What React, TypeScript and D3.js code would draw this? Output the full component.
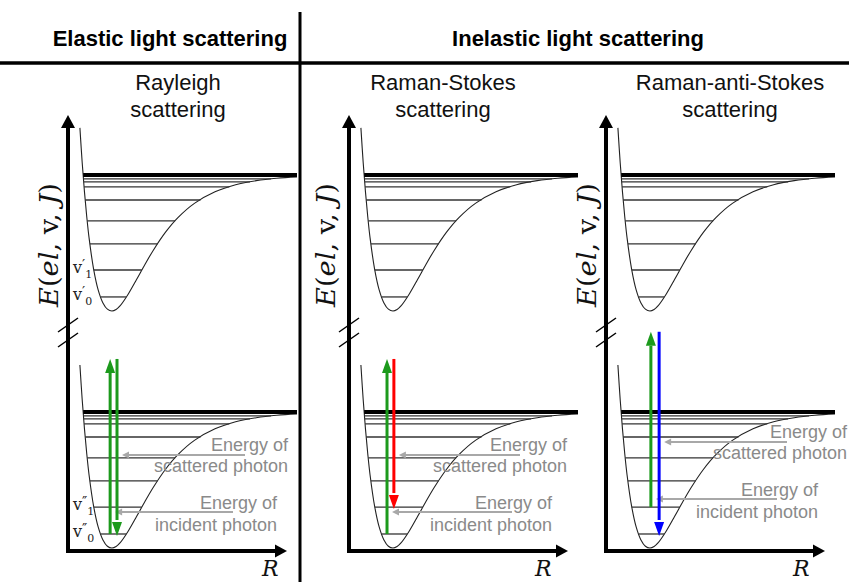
import React from "react";
import * as d3 from "d3";

const W = 849;
const H = 582;

// Headings
const sectionTitles = ["Elastic light scattering", "Inelastic light scattering"];
const processNames = [
  ["Rayleigh", "scattering"],
  ["Raman-Stokes", "scattering"],
  ["Raman-anti-Stokes", "scattering"],
];

// Potential energy curve, internuclear distance R (Å) vs energy E (arb. units, well bottom = 0)
const potentialR = [0.26, 0.31, 0.36, 0.41, 0.46, 0.56, 0.66, 0.76, 0.86, 0.96, 1.05, 1.14, 1.32, 1.5, 1.68, 1.86, 2.13, 2.4, 2.76, 3.21, 3.66, 4.11, 4.56, 5.0];
const potentialE = [13.46, 10.9, 8.74, 6.91, 5.37, 3.06, 1.53, 0.61, 0.13, 0, 0.11, 0.39, 1.27, 2.33, 3.42, 4.45, 5.79, 6.86, 7.91, 8.76, 9.28, 9.58, 9.76, 9.86];
const dissociationE = 10;
const vibLevelsE = [1.03, 3.01, 4.93, 6.62, 8.16, 9.12, 9.49, 9.71];
const excitedShiftE = 17.43;

// Photon transitions for each process
const incidentFromE = [1.03, 1.03, 3.01];
const virtualLevelE = [13.9, 13.9, 15.9];
const scatteredToE = [1.03, 3.01, 1.03];
const incidentColor = "#1c9a1c";
const scatteredColors = ["#1c9a1c", "#ff0000", "#0000ff"];

const scatteredNote = ["Energy of", "scattered photon"];
const incidentNote = ["Energy of", "incident photon"];

// Drawing geometry for each panel
const PANELS = [
  { axisX: 68, upR: 0.92, downR: 1.07, scatY: 455, incY: 512, scatTail: 245, incTail: 233, scatRight: 288, incRight: 277, eLabelX: 51, rX: 262, labels: true },
  { axisX: 349, upR: 0.83, downR: 0.98, scatY: 455, incY: 512, scatTail: 520, incTail: 512, scatRight: 567, incRight: 552, eLabelX: 328, rX: 535, labels: false },
  { axisX: 606, upR: 0.98, downR: 1.16, scatY: 442, incY: 499, scatTail: 787, incTail: 777, scatRight: 847, incRight: 818, eLabelX: 589, rX: 793, labels: false },
];

const SANS = "'Liberation Sans', Arial, sans-serif";
const SERIF = "'DejaVu Serif', 'Liberation Serif', serif";

const yScale = d3.scaleLinear().domain([0, 10]).range([548, 412]);
const AXIS_Y = 551;
const AXIS_TOP = 115;

const minIdx = potentialE.indexOf(d3.min(potentialE) as number);

// R where the curve crosses energy e on one side of the well
function crossing(e: number, side: "left" | "right"): number | null {
  const idx = side === "left" ? d3.range(0, minIdx) : d3.range(minIdx, potentialR.length - 1);
  for (const i of idx) {
    const e0 = potentialE[i], e1 = potentialE[i + 1];
    if ((e - e0) * (e - e1) <= 0 && e0 !== e1) {
      const t = (e - e0) / (e1 - e0);
      return potentialR[i] + t * (potentialR[i + 1] - potentialR[i]);
    }
  }
  return null;
}

function head(tx: number, ty: number, dir: "up" | "down" | "left" | "right", len: number, half: number) {
  if (dir === "up") return `M${tx},${ty}L${tx - half},${ty + len}L${tx + half},${ty + len}Z`;
  if (dir === "down") return `M${tx},${ty}L${tx - half},${ty - len}L${tx + half},${ty - len}Z`;
  if (dir === "left") return `M${tx},${ty}L${tx + len},${ty - half}L${tx + len},${ty + half}Z`;
  return `M${tx},${ty}L${tx - len},${ty - half}L${tx - len},${ty + half}Z`;
}

function Well({ x, shift, labelPrime, showLabels }: { x: d3.ScaleLinear<number, number>; shift: number; labelPrime: string; showLabels: boolean }) {
  const line = d3
    .line<number>()
    .x((_, i) => x(potentialR[i]))
    .y((e) => yScale(e + shift))
    .curve(d3.curveCatmullRom.alpha(0.5));
  const dLeft = crossing(dissociationE, "left") as number;
  return (
    <g>
      <path d={line(potentialE) as string} fill="none" stroke="#222" strokeWidth={1.1} />
      {vibLevelsE.map((e, i) => {
        const l = crossing(e, "left");
        const r = crossing(e, "right");
        if (l == null || r == null) return null;
        return <line key={i} x1={x(l)} x2={x(r)} y1={yScale(e + shift)} y2={yScale(e + shift)} stroke="#333" strokeWidth={1.3} />;
      })}
      <line x1={x(dLeft)} x2={x(5)} y1={yScale(dissociationE + shift)} y2={yScale(dissociationE + shift)} stroke="#000" strokeWidth={4} />
      {showLabels &&
        [0, 1].map((v) => (
          <text key={v} x={x(0) + 5} y={yScale(vibLevelsE[v] + shift) + 3} fontFamily={SERIF} fontSize={16} fill="#222">
            v<tspan fontSize={14} dy={-3}>{labelPrime}</tspan>
            <tspan fontSize={11} dy={8}>{v}</tspan>
          </text>
        ))}
    </g>
  );
}

function Panel({ p, k }: { p: (typeof PANELS)[number]; k: number }) {
  const x = d3.scaleLinear().domain([0, 5]).range([p.axisX, p.axisX + 229]);
  const upX = x(p.upR);
  const downX = x(p.downR);
  const topY = yScale(virtualLevelE[k]);
  const upFromY = yScale(incidentFromE[k]);
  const downToY = yScale(scatteredToE[k]);
  const HL = 14;
  const HW = 5;
  const gray = "#a8a8a8";
  const textGray = "#8a8a8a";
  const scatTip = downX + 5;
  const incTip = upX + 5;
  return (
    <g>
      {/* axes */}
      <line x1={p.axisX} x2={p.axisX} y1={AXIS_Y + 2} y2={AXIS_TOP + 12} stroke="#000" strokeWidth={4} />
      <path d={head(p.axisX, AXIS_TOP, "up", 13, 7)} fill="#000" />
      <line x1={p.axisX - 2} x2={p.axisX + 209} y1={AXIS_Y} y2={AXIS_Y} stroke="#000" strokeWidth={4} />
      <path d={head(p.axisX + 219, AXIS_Y, "right", 12, 6.5)} fill="#000" />
      {[325, 340].map((by) => (
        <line key={by} x1={p.axisX - 10} x2={p.axisX + 10} y1={by + 7} y2={by - 7} stroke="#000" strokeWidth={1.5} />
      ))}
      <text
        transform={`translate(${p.eLabelX},245) rotate(-90)`}
        textAnchor="middle"
        dominantBaseline="middle"
        fontFamily={SERIF}
        fontSize={26}
        fill="#111"
        textLength={124}
        lengthAdjust="spacingAndGlyphs"
      >
        <tspan fontStyle="italic">E</tspan>(<tspan fontStyle="italic">el</tspan>, v, <tspan fontStyle="italic">J</tspan>)
      </text>
      <text x={p.rX} y={576} fontFamily={SERIF} fontStyle="italic" fontSize={22} fill="#111">
        R
      </text>

      {/* wells */}
      <Well x={x} shift={excitedShiftE} labelPrime={"\u2032"} showLabels={p.labels} />
      <Well x={x} shift={0} labelPrime={"\u2033"} showLabels={p.labels} />

      {/* annotations */}
      <line x1={p.scatTail} x2={scatTip + 6} y1={p.scatY} y2={p.scatY} stroke={gray} strokeWidth={2} />
      <path d={head(scatTip, p.scatY, "left", 7, 3.5)} fill={gray} />
      <line x1={p.incTail} x2={incTip + 6} y1={p.incY} y2={p.incY} stroke={gray} strokeWidth={2} />
      <path d={head(incTip, p.incY, "left", 7, 3.5)} fill={gray} />
      <text textAnchor="end" fontFamily={SANS} fontSize={18} fill={textGray}>
        <tspan x={p.scatRight} y={p.scatY - 4}>{scatteredNote[0]}</tspan>
        <tspan x={p.scatRight} y={p.scatY + 17}>{scatteredNote[1]}</tspan>
        <tspan x={p.incRight} y={p.incY - 3}>{incidentNote[0]}</tspan>
        <tspan x={p.incRight} y={p.incY + 19}>{incidentNote[1]}</tspan>
      </text>

      {/* photons */}
      <line x1={upX} x2={upX} y1={upFromY} y2={topY + HL} stroke={incidentColor} strokeWidth={3} />
      <path d={head(upX, topY, "up", HL, HW)} fill={incidentColor} />
      <line x1={downX} x2={downX} y1={topY} y2={downToY - HL} stroke={scatteredColors[k]} strokeWidth={3} />
      <path d={head(downX, downToY + 2, "down", HL, HW)} fill={scatteredColors[k]} />
    </g>
  );
}

export default function App() {
  return (
    <svg width={W} height={H} style={{ position: "absolute", left: 0, top: 0, background: "#fff" }}>
      <rect width={W} height={H} fill="#fff" />
      <line x1={300} x2={300} y1={12} y2={H} stroke="#000" strokeWidth={3} />
      <line x1={0} x2={W} y1={63} y2={63} stroke="#000" strokeWidth={3.5} />
      <text x={170} y={46} textAnchor="middle" fontFamily={SANS} fontWeight="bold" fontSize={22} fill="#000">
        {sectionTitles[0]}
      </text>
      <text x={578} y={46} textAnchor="middle" fontFamily={SANS} fontWeight="bold" fontSize={22} fill="#000">
        {sectionTitles[1]}
      </text>
      {processNames.map((lines, i) => (
        <text key={i} textAnchor="middle" fontFamily={SANS} fontSize={22} fill="#111">
          <tspan x={[178, 443, 730][i]} y={90}>{lines[0]}</tspan>
          <tspan x={[178, 443, 730][i]} y={117}>{lines[1]}</tspan>
        </text>
      ))}
      {PANELS.map((p, k) => (
        <Panel key={k} p={p} k={k} />
      ))}
    </svg>
  );
}
